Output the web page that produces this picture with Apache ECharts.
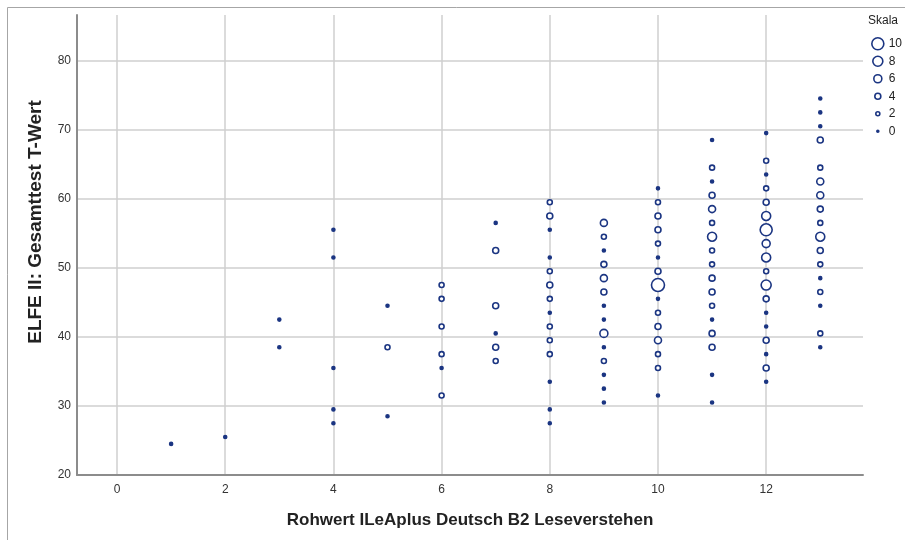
<!DOCTYPE html>
<html><head><meta charset="utf-8">
<script src="https://cdn.jsdelivr.net/npm/echarts@6/dist/echarts.min.js"></script>
<style>html,body{margin:0;padding:0;background:#fff}#c{width:905px;height:540px}</style>
</head><body><div id="c"></div>
<script>
// x categories (raw scores) and, per column, T-values and number of cases
const colX = [1, 2, 3, 4, 5, 6, 7, 8, 9, 10, 11, 12, 13];
const colY = [
  [24.5],
  [25.5],
  [42.5, 38.5],
  [55.5, 51.5, 35.5, 29.5, 27.5],
  [44.5, 38.5, 28.5],
  [47.5, 45.5, 41.5, 37.5, 35.5, 31.5],
  [56.5, 52.5, 44.5, 40.5, 38.5, 36.5],
  [59.5, 57.5, 55.5, 51.5, 49.5, 47.5, 45.5, 43.5, 41.5, 39.5, 37.5, 33.5, 29.5, 27.5],
  [56.5, 54.5, 52.5, 50.5, 48.5, 46.5, 44.5, 42.5, 40.5, 38.5, 36.5, 34.5, 32.5, 30.5],
  [61.5, 59.5, 57.5, 55.5, 53.5, 51.5, 49.5, 47.5, 45.5, 43.5, 41.5, 39.5, 37.5, 35.5, 31.5],
  [68.5, 64.5, 62.5, 60.5, 58.5, 56.5, 54.5, 52.5, 50.5, 48.5, 46.5, 44.5, 42.5, 40.5, 38.5, 34.5, 30.5],
  [69.5, 65.5, 63.5, 61.5, 59.5, 57.5, 55.5, 53.5, 51.5, 49.5, 47.5, 45.5, 43.5, 41.5, 39.5, 37.5, 35.5, 33.5],
  [74.5, 72.5, 70.5, 68.5, 64.5, 62.5, 60.5, 58.5, 56.5, 54.5, 52.5, 50.5, 48.5, 46.5, 44.5, 40.5, 38.5]
];
const colN = [
  [1],
  [1],
  [1, 1],
  [1, 1, 1, 1, 1],
  [1, 3, 1],
  [3, 3, 3, 3, 1, 3],
  [1, 4, 4, 1, 4, 3],
  [3, 4, 1, 1, 3, 4, 3, 1, 3, 3, 3, 1, 1, 1],
  [5, 3, 1, 4, 5, 4, 1, 1, 6, 1, 3, 1, 1, 1],
  [1, 3, 4, 4, 3, 1, 4, 11, 1, 3, 4, 5, 3, 3, 1],
  [1, 3, 1, 4, 5, 3, 7, 3, 3, 4, 4, 3, 1, 4, 4, 1, 1],
  [1, 3, 1, 3, 4, 7, 10, 6, 7, 3, 8, 4, 1, 1, 4, 1, 4, 1],
  [1, 1, 1, 4, 3, 5, 5, 4, 3, 7, 4, 3, 1, 3, 1, 3, 1]
];
const xTicks = [0, 2, 4, 6, 8, 10, 12];
const yTicks = [20, 30, 40, 50, 60, 70, 80];
const scaleLevels = [10, 8, 6, 4, 2, 0];
const xTitle = 'Rohwert ILeAplus Deutsch B2 Leseverstehen';
const yTitle = 'ELFE II: Gesamttest T-Wert';
const scaleTitle = 'Skala';

const NAVY = '#1b3582';
const FONT = "'Liberation Sans', Arial, sans-serif";
const sizeOf = n => 2 + n;

const points = [];
colX.forEach((x, i) => colY[i].forEach((y, j) => points.push([x, y, colN[i][j]])));
const legendPts = scaleLevels.map(v => [0, String(v), v]);

const chart = echarts.init(document.getElementById('c'), null, {renderer: 'canvas'});
chart.setOption({
  animation: false,
  backgroundColor: '#fff',
  textStyle: {fontFamily: FONT},
  graphic: [{
    type: 'rect', z: -10, silent: true,
    shape: {x: 7.5, y: 7.5, width: 1000, height: 1000},
    style: {fill: 'none', stroke: '#a6a6a6', lineWidth: 1}
  }],
  title: {
    text: scaleTitle, right: 2, top: 10,
    textStyle: {fontFamily: FONT, fontSize: 12, fontWeight: 'normal', color: '#222'}
  },
  grid: [
    {left: 77, right: 42, top: 15, bottom: 65},
    {left: 871, width: 14, top: 35, height: 105}
  ],
  xAxis: [{
    gridIndex: 0, type: 'value', min: -0.74, max: 13.79,
    name: xTitle, nameLocation: 'middle', nameGap: 37,
    nameTextStyle: {fontFamily: FONT, fontSize: 17, fontWeight: 'bold', color: '#222'},
    axisLine: {show: true, onZero: false, lineStyle: {color: '#8c8c8c', width: 2}},
    axisTick: {show: false, customValues: xTicks},
    axisLabel: {customValues: xTicks, color: '#333', fontSize: 12, margin: 9, fontFamily: FONT},
    splitLine: {show: true, lineStyle: {color: '#cfcfcf', width: 1.5}}
  }, {
    gridIndex: 1, type: 'value', min: -1, max: 1, show: false
  }],
  yAxis: [{
    gridIndex: 0, type: 'value', min: 20, max: 86.6,
    name: yTitle, nameLocation: 'middle', nameGap: 32,
    nameTextStyle: {fontFamily: FONT, fontSize: 19, fontWeight: 'bold', color: '#222', padding: [0, 0, 0, 46]},
    axisLine: {show: true, onZero: false, lineStyle: {color: '#8c8c8c', width: 2}},
    axisTick: {show: false, customValues: yTicks},
    axisLabel: {customValues: yTicks, color: '#333', fontSize: 12, margin: 6, fontFamily: FONT},
    splitLine: {show: true, lineStyle: {color: '#cfcfcf', width: 1.5}}
  }, {
    gridIndex: 1, type: 'category', data: scaleLevels.map(String), position: 'right', inverse: true,
    axisLine: {show: false}, axisTick: {show: false}, splitLine: {show: false},
    axisLabel: {color: '#222', fontSize: 12, margin: 4, fontFamily: FONT}
  }],
  series: [{
    type: 'scatter', xAxisIndex: 0, yAxisIndex: 0,
    data: points,
    symbol: 'circle',
    symbolSize: v => sizeOf(v[2]),
    itemStyle: {
      color: p => (p.data[2] <= 1 ? NAVY : '#fff'),
      borderColor: NAVY, borderWidth: 1.6, opacity: 1
    }
  }, {
    type: 'scatter', xAxisIndex: 1, yAxisIndex: 1,
    data: legendPts,
    symbol: 'circle',
    symbolSize: v => sizeOf(v[2]),
    itemStyle: {
      color: p => (p.data[2] <= 1 ? NAVY : '#fff'),
      borderColor: NAVY, borderWidth: 1.6, opacity: 1
    }
  }]
});
</script>
</body></html>
